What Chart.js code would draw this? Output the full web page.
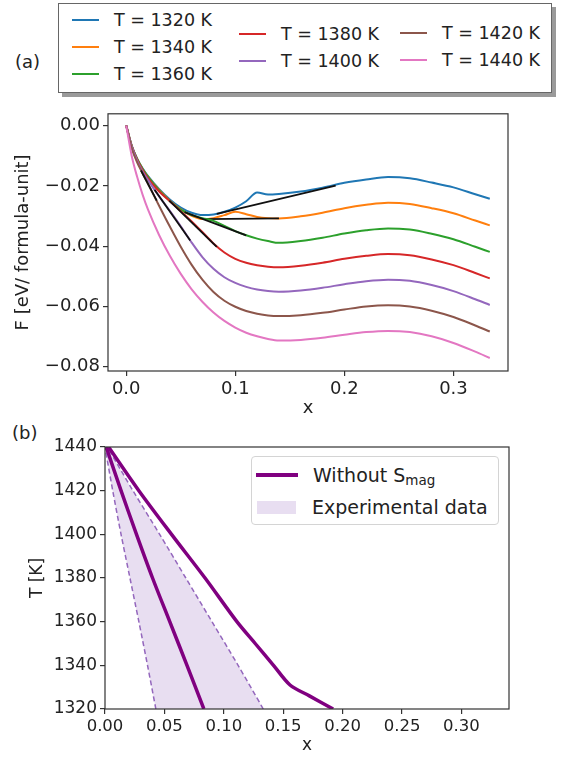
<!DOCTYPE html>
<html>
<head>
<meta charset="utf-8">
<script src="https://cdn.jsdelivr.net/npm/chart.js@4.4.1/dist/chart.umd.min.js"></script>
<style>
  body { margin: 0; width: 566px; height: 757px; background: #fff; position: relative; overflow: hidden;
         font-family: "DejaVu Sans", sans-serif; color: #222; }
  .chart-box { position: absolute; left: 0; width: 566px; }
  .panel-label { position: absolute; font-size: 18px; line-height: 22px; }
  #legendA { position: absolute; left: 58px; top: 3px; width: 494px; height: 90px; box-sizing: border-box;
             border: 1px solid #666; background: #fff; box-shadow: 4px 4px 0 #9a9a9a; }
  .legend-item { position: absolute; height: 20px; display: flex; align-items: center; font-size: 17.5px; white-space: nowrap; }
  .legend-color { display: inline-block; width: 27px; height: 2px; margin-right: 15px; }
  #legendB { position: absolute; left: 251px; top: 456px; width: 248px; height: 69px; box-sizing: border-box;
             border: 1px solid #d4d4d4; border-radius: 4px; background: #fff; font-size: 19px; z-index: 2; }
  #legendB .row { position: absolute; left: 0; height: 24px; display: flex; align-items: center; white-space: nowrap; }
  #legendB sub { font-size: 13.5px; vertical-align: -3px; line-height: 0; }
</style>
</head>
<body>
<div class="panel-label" style="left:15px; top:51px;">(a)</div>
<div id="legendA"></div>
<div class="chart-box" style="top:100px; height:320px;"><canvas id="chartA"></canvas></div>

<div class="panel-label" style="left:12px; top:422px;">(b)</div>
<div class="chart-box" style="top:420px; height:337px;"><canvas id="chartB"></canvas></div>
<div id="legendB">
  <div class="row" style="top:6px;">
    <span style="display:inline-block; margin-left:4px; width:42px; height:3.5px; background:#800080;"></span>
    <span style="margin-left:15px;">Without S<sub>mag</sub></span>
  </div>
  <div class="row" style="top:38px;">
    <span style="display:inline-block; margin-left:5px; width:39px; height:13px; background:rgba(148,103,189,0.22);"></span>
    <span style="margin-left:16px;">Experimental data</span>
  </div>
</div>

<script>
// ---- panel (a): free energy curves ----
const temps = [1320, 1340, 1360, 1380, 1400, 1420, 1440];
const colors = ['#1f77b4', '#ff7f0e', '#2ca02c', '#d62728', '#9467bd', '#8c564b', '#e377c2'];

const xGrid = [0, 0.005, 0.01, 0.015, 0.02, 0.03, 0.04, 0.05, 0.06, 0.07, 0.08, 0.09, 0.10, 0.11, 0.12, 0.13, 0.14,
               0.16, 0.18, 0.20, 0.22, 0.24, 0.26, 0.28, 0.30, 0.32, 0.3333];

const F1320 = [0, -0.0066, -0.011, -0.0142, -0.0168, -0.021, -0.0245, -0.0272, -0.0289, -0.0297, -0.0295, -0.0286, -0.0272, -0.0251, -0.0222, -0.0229, -0.0227,
               -0.0219, -0.0206, -0.0190, -0.0179, -0.0171, -0.0175, -0.0189, -0.0205, -0.0228, -0.0243];
const F1340 = [0, -0.0067, -0.0111, -0.0144, -0.017, -0.0213, -0.0249, -0.0278, -0.0299, -0.031, -0.0307, -0.0297, -0.0286, -0.0294, -0.0303, -0.0307, -0.0308,
               -0.0301, -0.0289, -0.0274, -0.0263, -0.0256, -0.0260, -0.0274, -0.0291, -0.0315, -0.0331];
const F1360 = [0, -0.0067, -0.0111, -0.0144, -0.017, -0.0214, -0.025, -0.0279, -0.0297, -0.0307, -0.0316, -0.0333, -0.035, -0.0364, -0.0375, -0.0383, -0.0389,
               -0.0383, -0.0372, -0.0358, -0.0347, -0.0341, -0.0345, -0.0359, -0.0377, -0.0402, -0.0419];
const F1380 = [0, -0.0068, -0.0113, -0.0147, -0.0175, -0.0218, -0.0251, -0.0284, -0.0318, -0.0354, -0.0391, -0.0421, -0.0442, -0.0455, -0.0463, -0.0468, -0.047,
               -0.0465, -0.0455, -0.0442, -0.0432, -0.0426, -0.0430, -0.0444, -0.0463, -0.0489, -0.0507];
const F1400 = [0, -0.0069, -0.0116, -0.0152, -0.0181, -0.0234, -0.0283, -0.0334, -0.0388, -0.0437, -0.0475, -0.0503, -0.0522, -0.0535, -0.0544, -0.0549, -0.0551,
               -0.0547, -0.0538, -0.0526, -0.0516, -0.0511, -0.0515, -0.0529, -0.0549, -0.0576, -0.0595];
const F1420 = [0, -0.0075, -0.0122, -0.0158, -0.0193, -0.0265, -0.0335, -0.0402, -0.0462, -0.0512, -0.0552, -0.0581, -0.0601, -0.0615, -0.0624, -0.063, -0.0632,
               -0.0629, -0.0621, -0.0610, -0.0600, -0.0596, -0.0600, -0.0614, -0.0635, -0.0663, -0.0683];
const F1440 = [0, -0.0100, -0.0170, -0.0229, -0.0279, -0.0362, -0.0432, -0.0492, -0.0543, -0.0585, -0.062, -0.0648, -0.067, -0.0687, -0.0699, -0.0708, -0.0713,
               -0.0711, -0.0704, -0.0694, -0.0685, -0.0681, -0.0685, -0.0699, -0.0721, -0.0750, -0.0771];
const curvesA = [F1320, F1340, F1360, F1380, F1400, F1420, F1440];

// common tangent end points, one per temperature (1320 ... 1420)
const tanX1 = [0.083, 0.0725, 0.0535, 0.0395, 0.026, 0.0135];
const tanF1 = [-0.0293, -0.031, -0.0287, -0.0249, -0.0213, -0.0149];
const tanX2 = [0.192, 0.14, 0.11, 0.083, 0.0587, 0.028];
const tanF2 = [-0.0199, -0.0308, -0.0364, -0.0402, -0.0381, -0.0249];

const xTicksA = [0, 0.1, 0.2, 0.3];
const yTicksA = [0, -0.02, -0.04, -0.06, -0.08];

// ---- panel (b): phase boundary ----
const tempB = [1320, 1340, 1360, 1380, 1400, 1420, 1440];
const expLow = [0.0428, 0.0358, 0.0285, 0.021, 0.0135, 0.0065, 0];
const expHigh = [0.1332, 0.112, 0.09, 0.068, 0.046, 0.0235, 0.002];
const solidLowX = [0.0832, 0.069, 0.0545, 0.040, 0.0265, 0.0135, 0.001];
const tempHigh = [1320, 1326, 1331, 1340, 1350, 1360, 1380, 1400, 1420, 1440];
const solidHighX = [0.192, 0.172, 0.1557, 0.1418, 0.1264, 0.111, 0.0842, 0.056, 0.0285, 0.003];

const xTicksB = [0, 0.05, 0.10, 0.15, 0.20, 0.25, 0.30];
const yTicksB = [1320, 1340, 1360, 1380, 1400, 1420, 1440];

Chart.defaults.font.family = 'DejaVu Sans';
Chart.defaults.color = '#222';

const frame = {
    id: 'frame',
    afterDatasetsDraw(chart) {
        const {ctx, chartArea: a} = chart;
        ctx.save();
        ctx.strokeStyle = '#333';
        ctx.lineWidth = 1.2;
        ctx.strokeRect(a.left, a.top, a.right - a.left, a.bottom - a.top);
        ctx.restore();
    }
};

function axisGrid() {
    return { drawOnChartArea: false, drawTicks: true, tickLength: 5, color: '#333', lineWidth: 1.2 };
}

function generateLegend(labels, colors) {
    const slots = [[13, 16], [13, 43], [13, 70], [180, 30], [180, 57], [341, 29], [341, 56]];
    const legendContainer = document.getElementById('legendA');
    legendContainer.innerHTML = '';
    labels.forEach((label, index) => {
        const legendItem = document.createElement('div');
        legendItem.className = 'legend-item';
        legendItem.style.left = slots[index][0] + 'px';
        legendItem.style.top = (slots[index][1] - 10) + 'px';

        const legendColor = document.createElement('span');
        legendColor.className = 'legend-color';
        legendColor.style.backgroundColor = colors[index];

        const legendText = document.createElement('span');
        legendText.textContent = label;

        legendItem.appendChild(legendColor);
        legendItem.appendChild(legendText);
        legendContainer.appendChild(legendItem);
    });
}

// datasets for (a): each curve followed by its tangent, later ones on top
const datasetsA = [];
let k = 0;
temps.forEach((t, i) => {
    datasetsA.push({
        label: 'T = ' + t + ' K',
        data: xGrid.map((x, j) => ({x: x, y: curvesA[i][j]})),
        borderColor: colors[i],
        borderWidth: 2,
        pointRadius: 0,
        cubicInterpolationMode: 'monotone',
        order: -(k++)
    });
    if (i < tanX1.length) {
        datasetsA.push({
            label: 'tangent ' + t,
            data: [{x: tanX1[i], y: tanF1[i]}, {x: tanX2[i], y: tanF2[i]}],
            borderColor: '#111',
            borderWidth: 1.8,
            pointRadius: 0,
            order: -(k++)
        });
    }
});

new Chart(document.getElementById('chartA').getContext('2d'), {
    type: 'line',
    data: { datasets: datasetsA },
    options: {
        responsive: true,
        maintainAspectRatio: false,
        animation: false,
        layout: { padding: { left: 0, right: 58, top: 12, bottom: 0 } },
        plugins: { legend: { display: false }, tooltip: { enabled: false } },
        scales: {
            x: {
                type: 'linear', min: -0.0167, max: 0.35,
                afterBuildTicks: s => { s.ticks = xTicksA.map(v => ({value: v})); },
                afterFit: s => { s.height = 49; },
                ticks: { callback: v => v.toFixed(1), font: { size: 18 }, padding: 3, maxRotation: 0 },
                grid: axisGrid(),
                border: { display: false },
                title: { display: true, text: 'x', font: { size: 18, lineHeight: 1 }, padding: { top: 0, bottom: 2.4 } }
            },
            y: {
                type: 'linear', min: -0.0814, max: 0.0039,
                afterBuildTicks: s => { s.ticks = yTicksA.map(v => ({value: v})); },
                afterFit: s => { s.width = 108; },
                ticks: { callback: v => v === 0 ? '0.00' : '\u2212' + Math.abs(v).toFixed(2), font: { size: 18 }, padding: 3 },
                grid: axisGrid(),
                border: { display: false },
                title: { display: true, text: 'F [eV/ formula-unit]', font: { size: 18, lineHeight: 1 }, padding: { top: 14, bottom: 0 } }
            }
        }
    },
    plugins: [frame]
});

generateLegend(temps.map(t => 'T = ' + t + ' K'), colors);

// (b) is drawn with T as the index axis so the band fills between the two dashed lines
const lavender = 'rgba(148, 103, 189, 0.22)';
new Chart(document.getElementById('chartB').getContext('2d'), {
    type: 'line',
    data: {
        datasets: [
            {
                label: 'Experimental data',
                data: tempB.map((t, i) => ({x: expLow[i], y: t})),
                borderColor: '#9467bd', borderWidth: 1.5, borderDash: [5, 3],
                backgroundColor: lavender, fill: '+1',
                pointRadius: 0, tension: 0.3, order: 2
            },
            {
                label: 'exp upper',
                data: tempB.map((t, i) => ({x: expHigh[i], y: t})),
                borderColor: '#9467bd', borderWidth: 1.5, borderDash: [5, 3],
                pointRadius: 0, tension: 0.3, order: 1
            },
            {
                label: 'Without Smag',
                data: tempB.map((t, i) => ({x: solidLowX[i], y: t})),
                borderColor: '#800080', borderWidth: 3.5,
                pointRadius: 0, tension: 0.3, order: 0
            },
            {
                label: 'Without Smag upper',
                data: tempHigh.map((t, i) => ({x: solidHighX[i], y: t})),
                borderColor: '#800080', borderWidth: 3.5,
                pointRadius: 0, tension: 0.3, order: 0
            }
        ]
    },
    options: {
        indexAxis: 'y',
        responsive: true,
        maintainAspectRatio: false,
        animation: false,
        layout: { padding: { left: 0, right: 57, top: 27, bottom: 0 } },
        plugins: { legend: { display: false }, tooltip: { enabled: false } },
        scales: {
            x: {
                type: 'linear', min: 0, max: 0.34,
                afterBuildTicks: s => { s.ticks = xTicksB.map(v => ({value: v})); },
                afterFit: s => { s.height = 48; },
                ticks: { callback: v => v.toFixed(2), font: { size: 16.5 }, padding: 3, maxRotation: 0 },
                grid: axisGrid(),
                border: { display: false },
                title: { display: true, text: 'x', font: { size: 17, lineHeight: 1 }, padding: { top: 0, bottom: 2.9 } }
            },
            y: {
                type: 'linear', min: 1320, max: 1440,
                afterBuildTicks: s => { s.ticks = yTicksB.map(v => ({value: v})); },
                afterFit: s => { s.width = 105; },
                ticks: { callback: v => String(v), font: { size: 17 }, padding: 3 },
                grid: axisGrid(),
                border: { display: false },
                title: { display: true, text: 'T [K]', font: { size: 17, lineHeight: 1 }, padding: { top: 29.5, bottom: 0 } }
            }
        }
    },
    plugins: [frame]
});
</script>
</body>
</html>
